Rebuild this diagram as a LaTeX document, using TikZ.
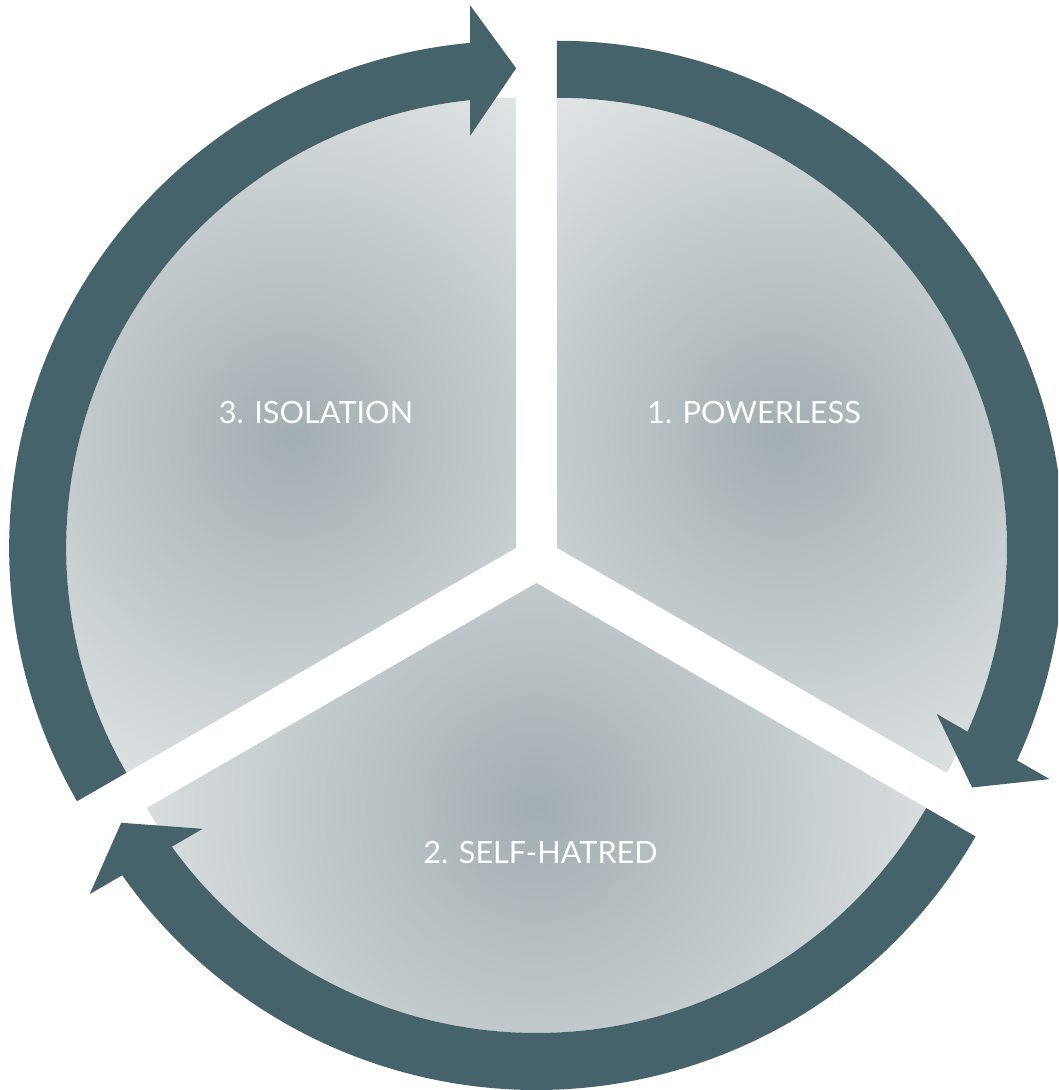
\documentclass[tikz,border=0pt]{standalone}
\usepackage{fontspec}
\setmainfont{Lato}
\definecolor{arrowc}{HTML}{46626B}
\definecolor{secdark}{HTML}{A3AEB2}
\definecolor{seclight}{HTML}{E0E4E5}
\pgfdeclareradialshading{sidesector}{\pgfpointorigin}{color(0bp)=(secdark); color(303bp)=(seclight); color(700bp)=(seclight)}
\pgfdeclareradialshading{basesector}{\pgfpointorigin}{color(0bp)=(secdark); color(336bp)=(seclight); color(700bp)=(seclight)}
\tikzset{
  cyclearrow/.style={fill=arrowc},
  shadebox/.style={inner sep=0pt, outer sep=0pt},
  steplabel/.style={text=white, font=\fontsize{23}{27}\selectfont, inner sep=0pt}
}
\begin{document}
\begin{tikzpicture}[x=0.75pt,y=0.75pt]
\useasboundingbox (-536.5,-530.5) rectangle (521.5,559.5);
\fill[white] (-536.5,-530.5) rectangle (521.5,559.5);
\clip (-536.5,-530.5) rectangle (521.5,559.5);
% sector vertices
\coordinate (V1) at (20.35,11.75);
\coordinate (V2) at (0,-23.5);
\coordinate (V3) at (-20.35,11.75);
% shading centres
\coordinate (S1) at (245.35,124.25);
\coordinate (S2) at (0,-248.5);
\coordinate (S3) at (-245.35,124.25);
% sectors
\begin{scope}
  \clip (V1) -- ++(90:450) arc[start angle=90, end angle=-30, radius=450] -- cycle;
  \node[shadebox] (g1) at (S1) {\pgfuseshading{sidesector}};
\end{scope}
\begin{scope}
  \clip (V2) -- ++(-30:450) arc[start angle=-30, end angle=-150, radius=450] -- cycle;
  \node[shadebox] (g2) at (S2) {\pgfuseshading{basesector}};
\end{scope}
\begin{scope}
  \clip (V3) -- ++(210:450) arc[start angle=210, end angle=90, radius=450] -- cycle;
  \node[shadebox] (g3) at (S3) {\pgfuseshading{sidesector}};
\end{scope}
% arrows
\foreach \v/\a in {V1/90, V2/-30, V3/210} {
  \begin{scope}[shift={(\v)}]
    \pgfmathsetmacro\tip{\a-120}
    \fill[cyclearrow] ({\a}:507) arc[start angle=\a, end angle={\tip+5.2}, radius=507]
      -- ({\tip+4.85}:544.4) -- ({\tip}:479.5) -- ({\tip+6.37}:414.6)
      -- ({\tip+5.87}:450) arc[start angle={\tip+5.87}, end angle=\a, radius=450] -- cycle;
  \end{scope}
}
% labels
\node[steplabel] (t1) at (217.5,147) {1. POWERLESS};
\node[steplabel] (t2) at (4,-293) {2. SELF-HATRED};
\node[steplabel] (t3) at (-220.5,147) {3. ISOLATION};
\end{tikzpicture}
\end{document}
